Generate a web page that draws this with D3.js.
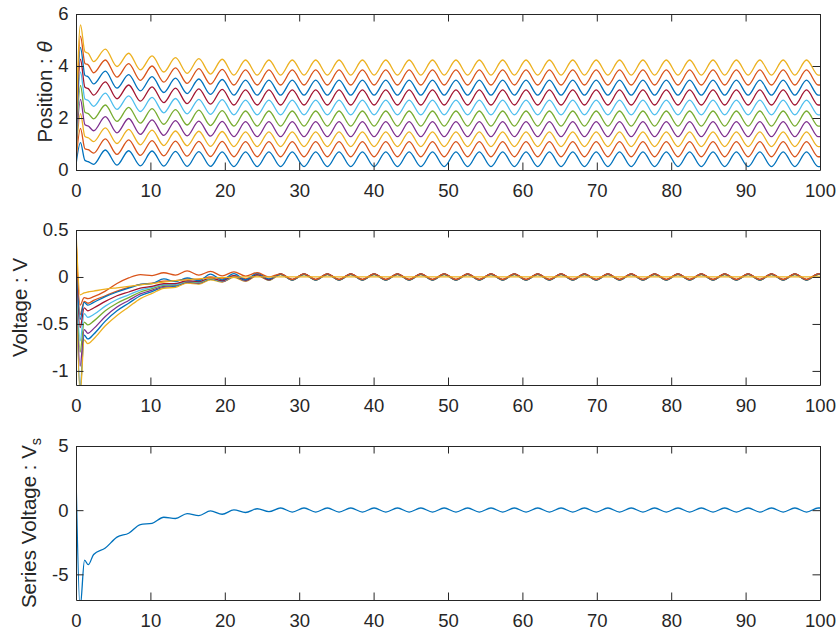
<!DOCTYPE html>
<html>
<head>
<meta charset="utf-8">
<script src="https://cdn.jsdelivr.net/npm/d3@7"></script>
<style>
  body { margin: 0; background: #fff; }
  svg { display: block; }
  text { font-family: "Liberation Sans", Arial, Helvetica, sans-serif; fill: #262626; }
</style>
</head>
<body>
<svg id="chart" width="839" height="632"></svg>
<script>
// ---------------- data ----------------
const timeTicks = [0, 10, 20, 30, 40, 50, 60, 70, 80, 90, 100];

// Shared sample instants: alternating extrema of the steady oscillation
// (even index: position trough / voltage crest, odd index: position crest / voltage trough)
const sampleTimes = [2.37, 3.94, 5.51, 7.08, 8.65, 10.22, 11.80, 13.37, 14.94, 16.51,
  18.08, 19.65, 21.22, 22.79, 24.36, 25.93, 27.50, 29.07, 30.65, 32.22,
  33.79, 35.36, 36.93, 38.50, 40.07, 41.64, 43.21, 44.78, 46.35, 47.92,
  49.49, 51.07, 52.64, 54.21, 55.78, 57.35, 58.92, 60.49, 62.06, 63.63,
  65.20, 66.77, 68.34, 69.92, 71.49, 73.06, 74.63, 76.20, 77.77, 79.34,
  80.91, 82.48, 84.05, 85.62, 87.19, 88.76, 90.34, 91.91, 93.48, 95.05,
  96.62, 98.19, 99.76];
const endTime = 100;

const palette = ["#0072BD", "#D95319", "#EDB120", "#7E2F8E", "#77AC30",
                 "#4DBEEE", "#A2142F", "#0072BD", "#D95319", "#EDB120"];

// Position θ (10 channels)
const thetaTicks = [0, 2, 4, 6];
const thetaHeadTimes = [0, 0.6, 1.2, 1.65];
const thetaHead = [
  [0.20, 1.05, 0.37, 0.32],
  [0.35, 1.60, 0.82, 0.78],
  [0.50, 2.17, 1.29, 1.24],
  [0.65, 2.72, 1.74, 1.69],
  [0.80, 3.25, 2.22, 2.17],
  [0.95, 3.77, 2.73, 2.67],
  [1.10, 4.26, 3.18, 3.13],
  [1.25, 4.72, 3.64, 3.58],
  [1.40, 5.15, 4.10, 4.04],
  [1.55, 5.58, 4.55, 4.49]
];
const thetaEarly = [
  [0.22, 0.77, 0.19, 0.74, 0.16, 0.73, 0.15, 0.72, 0.14, 0.71, 0.14, 0.70],
  [0.65, 1.20, 0.60, 1.16, 0.56, 1.13, 0.54, 1.11, 0.53, 1.10, 0.52, 1.10],
  [1.09, 1.62, 1.02, 1.56, 0.97, 1.53, 0.94, 1.50, 0.93, 1.49, 0.91, 1.48],
  [1.51, 2.05, 1.43, 1.98, 1.37, 1.93, 1.33, 1.90, 1.31, 1.88, 1.30, 1.87],
  [1.97, 2.50, 1.87, 2.41, 1.80, 2.36, 1.76, 2.32, 1.73, 2.30, 1.71, 2.28],
  [2.45, 2.96, 2.33, 2.85, 2.25, 2.79, 2.20, 2.75, 2.16, 2.72, 2.14, 2.71],
  [2.88, 3.39, 2.74, 3.27, 2.65, 3.20, 2.59, 3.15, 2.55, 3.12, 2.53, 3.10],
  [3.31, 3.80, 3.15, 3.67, 3.04, 3.59, 2.98, 3.53, 2.94, 3.50, 2.91, 3.48],
  [3.74, 4.23, 3.57, 4.09, 3.45, 4.00, 3.38, 3.93, 3.33, 3.90, 3.30, 3.87],
  [4.17, 4.65, 3.98, 4.49, 3.85, 4.39, 3.77, 4.32, 3.72, 4.28, 3.69, 4.26]
];
// settled [trough, crest] per channel
const thetaSteady = [
  [0.13, 0.70], [0.51, 1.09], [0.90, 1.47], [1.28, 1.86], [1.69, 2.27],
  [2.12, 2.69], [2.50, 3.08], [2.88, 3.46], [3.27, 3.85], [3.65, 4.23]
];

// Voltage V (10 channels)
const voltTicks = [-1, -0.5, 0, 0.5];
const voltHeadTimes = [0, 0.55, 1.1, 1.6];
const voltHead = [
  [0.15, -1.20, -0.62, -0.66],
  [0.45, -0.40, -0.26, -0.28],
  [0.12, -1.25, -0.67, -0.71],
  [0.20, -0.95, -0.56, -0.60],
  [0.25, -0.80, -0.48, -0.51],
  [0.28, -0.68, -0.39, -0.43],
  [0.30, -0.54, -0.33, -0.36],
  [0.35, -0.45, -0.27, -0.30],
  [0.40, -0.30, -0.22, -0.23],
  [0.50, -0.19, -0.17, -0.16]
];
const voltEarly = [
  [-0.61, -0.47, -0.36, -0.28, -0.20, -0.155, -0.11, -0.10, -0.06, -0.07, -0.025, -0.05, 0.00, -0.04, 0.02, -0.035],
  [-0.25, -0.20, -0.15, -0.11, -0.08, -0.065, -0.045, -0.04, -0.02, -0.025, 0.00, -0.02, 0.015, -0.02, 0.025, -0.025],
  [-0.66, -0.52, -0.41, -0.32, -0.23, -0.175, -0.12, -0.11, -0.065, -0.075, -0.03, -0.055, -0.005, -0.045, 0.015, -0.035],
  [-0.55, -0.42, -0.32, -0.25, -0.18, -0.14, -0.10, -0.09, -0.055, -0.065, -0.02, -0.05, 0.005, -0.04, 0.02, -0.03],
  [-0.47, -0.36, -0.28, -0.22, -0.16, -0.125, -0.09, -0.085, -0.05, -0.06, -0.02, -0.045, 0.005, -0.035, 0.02, -0.03],
  [-0.40, -0.31, -0.24, -0.19, -0.14, -0.11, -0.08, -0.08, -0.045, -0.055, -0.015, -0.045, 0.01, -0.035, 0.025, -0.03],
  [-0.33, -0.26, -0.20, -0.16, -0.12, -0.10, -0.07, -0.07, -0.04, -0.05, -0.01, -0.04, 0.015, -0.035, 0.025, -0.03],
  [-0.27, -0.21, -0.16, -0.12, -0.08, -0.07, -0.02, -0.05, -0.01, -0.04, 0.03, -0.03, 0.035, -0.03, 0.04, -0.02],
  [-0.21, -0.15, -0.07, -0.01, 0.025, 0.015, 0.045, 0.02, 0.065, 0.02, 0.06, 0.012, 0.055, 0.01, 0.046, 0.00],
  [-0.15, -0.13, -0.115, -0.10, -0.085, -0.07, -0.055, -0.04, -0.03, -0.02, -0.012, -0.007, -0.003, 0.00, 0.00, 0.00]
];
// settled [crest, trough] per channel
const voltSteady = [
  [0.028, -0.032], [0.030, -0.030], [0.026, -0.034], [0.030, -0.030], [0.029, -0.031],
  [0.031, -0.029], [0.033, -0.028], [0.030, -0.032], [0.034, -0.027], [0.000, 0.000]
];

// Series voltage Vs
const seriesTicks = [-5, 0, 5];
const seriesHeadTimes = [0, 0.55, 1.15, 1.65];
const seriesHead = [2.8, -7.6, -3.9, -4.25];
const seriesEarly = [-3.45, -2.95, -2.10, -1.80, -1.12, -1.03, -0.55, -0.65,
                     -0.27, -0.42, -0.06, -0.32, 0.02, -0.18, 0.11, -0.12];
const seriesSteady = [0.17, -0.15];

// ---------------- helpers ----------------
function buildPoints(headTimes, head, early, steady) {
  const pts = headTimes.map((t, i) => [t, head[i]]);
  sampleTimes.forEach((t, i) => {
    pts.push([t, i < early.length ? early[i] : steady[i % 2]]);
  });
  pts.push([endTime, pts[pts.length - 1][1]]);
  return pts;
}

const svg = d3.select("#chart");
const left = 76, right = 820;
const x = d3.scaleLinear().domain([0, 100]).range([left, right]);
const axisColor = "#262626";
const tickLen = 7.5;
const fmt = v => String(v);

function panel(id, top, bottom, domain, yTicks, seriesList, colors, labelX, labelBuilder) {
  const y = d3.scaleLinear().domain(domain).range([bottom, top]);
  const g = svg.append("g");

  g.append("clipPath").attr("id", "clip-" + id)
    .append("rect").attr("x", left).attr("y", top)
    .attr("width", right - left).attr("height", bottom - top);

  const line = d3.line()
    .x(d => x(d[0])).y(d => y(d[1]))
    .curve(d3.curveMonotoneX);

  const lines = g.append("g").attr("clip-path", `url(#clip-${id})`);
  seriesList.forEach((pts, i) => {
    lines.append("path")
      .attr("d", line(pts))
      .attr("fill", "none")
      .attr("stroke", colors[i])
      .attr("stroke-width", 1.3)
      .attr("stroke-linejoin", "round");
  });

  const style = sel => {
    sel.selectAll("path.domain").attr("stroke", axisColor).attr("stroke-width", 1);
    sel.selectAll(".tick line").attr("stroke", axisColor).attr("stroke-width", 1);
    sel.selectAll(".tick text").attr("fill", axisColor)
      .style("font-size", "18.5px")
      .style("font-family", '"Liberation Sans", Arial, Helvetica, sans-serif');
  };

  g.append("g").attr("transform", `translate(0,${bottom})`)
    .call(d3.axisBottom(x).tickValues(timeTicks).tickFormat(fmt)
      .tickSizeInner(-tickLen).tickSizeOuter(0).tickPadding(14))
    .call(style);
  g.append("g").attr("transform", `translate(0,${top})`)
    .call(d3.axisTop(x).tickValues(timeTicks).tickFormat("")
      .tickSizeInner(-tickLen).tickSizeOuter(0))
    .call(style);
  g.append("g").attr("transform", `translate(${left},0)`)
    .call(d3.axisLeft(y).tickValues(yTicks).tickFormat(fmt)
      .tickSizeInner(-tickLen).tickSizeOuter(0).tickPadding(7.5))
    .call(style);
  g.append("g").attr("transform", `translate(${right},0)`)
    .call(d3.axisRight(y).tickValues(yTicks).tickFormat("")
      .tickSizeInner(-tickLen).tickSizeOuter(0))
    .call(style);

  const label = g.append("text")
    .attr("transform", `translate(${labelX},${(top + bottom) / 2}) rotate(-90)`)
    .attr("text-anchor", "middle")
    .style("font-size", "20.5px");
  labelBuilder(label);
}

// ---------------- panels ----------------
const thetaSeries = thetaHead.map((h, k) => buildPoints(thetaHeadTimes, h, thetaEarly[k], thetaSteady[k]));
panel("theta", 14, 170, [0, 6], thetaTicks, thetaSeries, palette, 52, t => {
  t.append("tspan").text("Position : ");
  t.append("tspan").attr("font-style", "italic").text("θ");
});

const voltSeries = voltHead.map((h, k) => buildPoints(voltHeadTimes, h, voltEarly[k], voltSteady[k]));
panel("volt", 230, 385, [-1.15, 0.5], voltTicks, voltSeries, palette, 27, t => {
  t.append("tspan").text("Voltage : V");
});

const seriesPts = buildPoints(seriesHeadTimes, seriesHead, seriesEarly, seriesSteady);
panel("series", 446, 600, [-7, 5], seriesTicks, [seriesPts], [palette[0]], 35.5, t => {
  t.append("tspan").text("Series Voltage : V");
  t.append("tspan").attr("dy", 5).style("font-size", "14.5px").text("s");
});
</script>
</body>
</html>
